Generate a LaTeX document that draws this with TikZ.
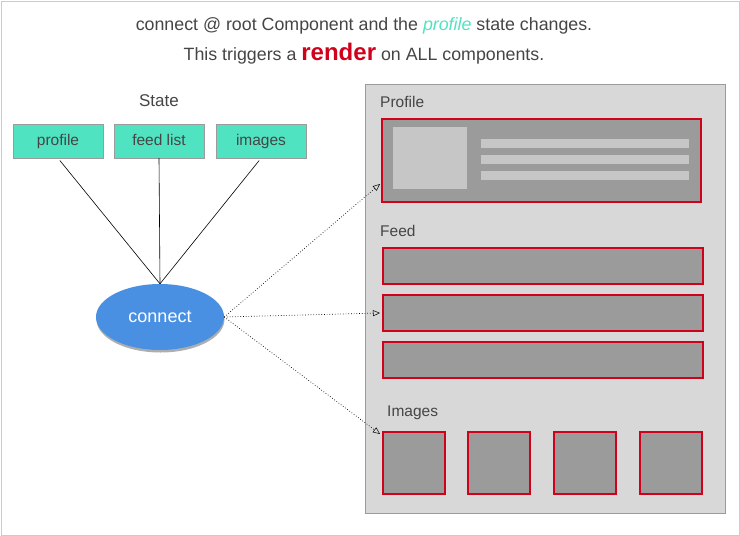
\documentclass[tikz,border=0pt]{standalone}
\usepackage{fontspec}
\setmainfont{Liberation Sans}
\usetikzlibrary{arrows.meta,shapes.geometric,shadows}
\definecolor{txt}{HTML}{454545}
\definecolor{teal}{HTML}{50E3C2}
\definecolor{blu}{HTML}{4A90E2}
\definecolor{red}{HTML}{D0021B}
\definecolor{panel}{HTML}{D8D8D8}
\definecolor{dgray}{HTML}{9B9B9B}
\definecolor{lgray}{HTML}{C6C6C6}
\tikzset{
  statebox/.style={draw=dgray, fill=teal, minimum width=90pt, minimum height=34pt, inner sep=0pt, text=txt,
    font=\fontsize{15.5}{18}\selectfont, text height=11.5pt, text depth=3.5pt},
  lbl/.style={anchor=base west, inner sep=0pt, text=txt, font=\fontsize{15.5}{18}\selectfont},
  comp/.style={draw=red, line width=2.4pt, fill=dgray, inner sep=0pt},
  bar/.style={fill=lgray, draw=none},
  link/.style={draw=black, line width=0.6pt},
  dotarrow/.style={draw=black, dotted, line width=0.7pt, -{Triangle[open,length=7pt,width=6pt,line width=0.5pt]}},
}
\begin{document}
\begin{tikzpicture}[x=1pt,y=-1pt]
\useasboundingbox (0,0) rectangle (740,536);
\draw[draw=black!20, line width=1pt] (1,1) rectangle (739,535);
% title
\node[text=txt, font=\fontsize{17.8}{20}\selectfont, anchor=base] (t1) at (364,30) {connect @ root Component and the \textcolor{teal}{\itshape profile} state changes.};
\node[text=txt, font=\fontsize{17.8}{20}\selectfont, anchor=base] (t2) at (364,60) {This triggers a \textcolor{red}{\fontsize{24}{26}\selectfont\bfseries render} on ALL components.};
% state
\node[text=txt, font=\fontsize{17}{20}\selectfont, anchor=base] (statelbl) at (159,106) {State};
\node[statebox] (sprofile) at (58,141) {profile};
\node[statebox] (sfeed) at (159,141) {feed list};
\node[statebox] (simages) at (261,141) {images};
\node[ellipse, fill=blu, minimum width=128pt, minimum height=66pt, inner sep=0pt, text=white, font=\fontsize{18}{20}\selectfont,
  drop shadow={shadow xshift=0.5pt, shadow yshift=-2.5pt, opacity=0.45, fill=black!70}] (connect) at (160,317) {connect};
\draw[link, shorten <=3pt] (sprofile.south) -- (connect.north);
\draw[link] (sfeed.south) -- (connect.north);
\draw[link, shorten <=3pt] (simages.south) -- (connect.north);
% panel
\node[draw=dgray, fill=panel, line width=1pt, minimum width=360pt, minimum height=429pt, inner sep=0pt, anchor=north west] (panel) at (364.5,83.5) {};
\node[lbl] (lprofile) at (380,107.5) {Profile};
\node[comp, minimum width=319pt, minimum height=83pt, anchor=north west] (cprofile) at (381,118) {};
\node[bar, minimum width=74pt, minimum height=62pt, inner sep=0pt, anchor=north west] (avatar) at (393,127) {};
\node[bar, minimum width=208pt, minimum height=9pt, inner sep=0pt, anchor=north west] (line1) at (481,139) {};
\node[bar, minimum width=208pt, minimum height=9pt, inner sep=0pt, anchor=north west] (line2) at (481,155) {};
\node[bar, minimum width=208pt, minimum height=9pt, inner sep=0pt, anchor=north west] (line3) at (481,171) {};
\node[lbl] (lfeed) at (380,236.5) {Feed};
\node[comp, minimum width=320pt, minimum height=36pt, anchor=north west] (feed1) at (381.5,247) {};
\node[comp, minimum width=320pt, minimum height=36pt, anchor=north west] (feed2) at (381.5,294) {};
\node[comp, minimum width=320pt, minimum height=36pt, anchor=north west] (feed3) at (381.5,341) {};
\node[lbl] (limages) at (387,416.5) {Images};
\node[comp, minimum width=62pt, minimum height=62pt, anchor=north west] (img1) at (381.5,431) {};
\node[comp, minimum width=62pt, minimum height=62pt, anchor=north west] (img2) at (466.5,431) {};
\node[comp, minimum width=62pt, minimum height=62pt, anchor=north west] (img3) at (552.5,431) {};
\node[comp, minimum width=62pt, minimum height=62pt, anchor=north west] (img4) at (638.5,431) {};
% arrows
\coordinate (tp) at (380,184);
\coordinate (tf) at (380,313);
\coordinate (ti) at (380,434);
\draw[dotarrow] (connect.east) -- (tp);
\draw[dotarrow] (connect.east) -- (tf);
\draw[dotarrow] (connect.east) -- (ti);
\end{tikzpicture}
\end{document}
